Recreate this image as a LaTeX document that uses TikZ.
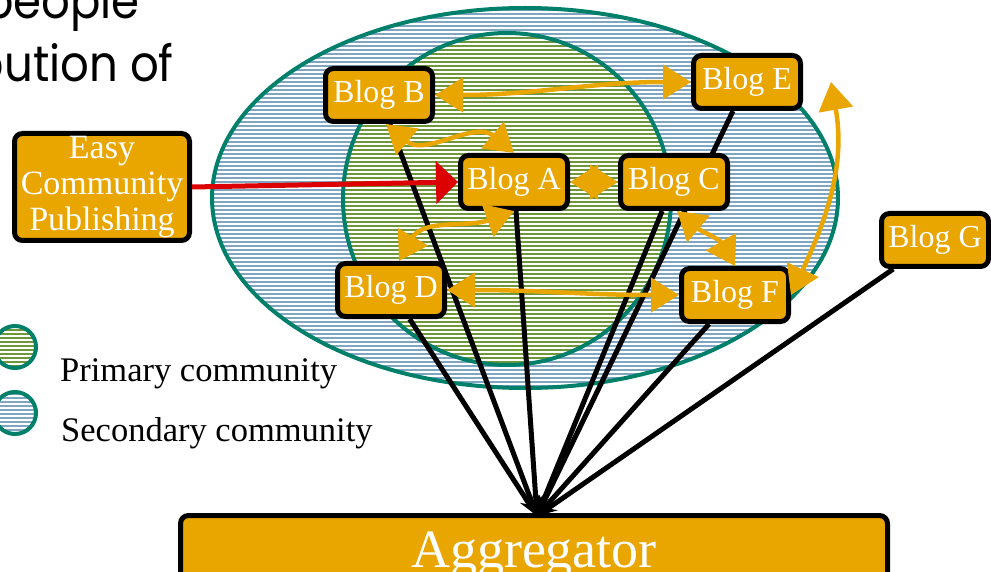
\documentclass[tikz,border=0pt]{standalone}
\usepackage{fontspec}
\setmainfont{Liberation Serif}
\newfontfamily\headfont[FakeStretch=0.9]{Poppins}
\usetikzlibrary{arrows.meta}

\definecolor{blogorange}{RGB}{233,165,0}
\definecolor{secblue}{RGB}{128,165,192}
\definecolor{primgreen}{RGB}{112,150,58}
\definecolor{ringteal}{RGB}{0,128,106}
\definecolor{pushred}{RGB}{220,0,0}

\pgfdeclarelayer{back}
\pgfdeclarelayer{links}
\pgfsetlayers{back,links,main}

% hatched community: centre, x radius, y radius, fill
\newcommand{\community}[4]{%
  \begin{scope}
    \clip #1 ellipse [x radius=#2, y radius=#3];
    \fill[#4] #1 ellipse [x radius=#2, y radius=#3];
    \foreach \k in {0,...,150}
      \draw[white, line width=1.1pt] (-50,-4*\k) -- (1050,-4*\k);
  \end{scope}
  \draw[ringteal, line width=4pt] #1 ellipse [x radius=#2, y radius=#3];}

\begin{document}
\begin{tikzpicture}[x=1pt, y=1pt,
    blog/.style={draw, line width=5pt, fill=blogorange, rounded corners=8pt,
      minimum width=107pt, minimum height=53pt, inner sep=0pt,
      text=white, font=\fontsize{32}{34}\selectfont},
    share/.style={blogorange, line width=4.5pt,
      {Triangle[length=28pt,width=34pt]}-{Triangle[length=28pt,width=34pt]}},
    feed/.style={black, line width=5pt, -{Stealth[length=20pt,width=14pt]}},
    push/.style={pushred, line width=5pt, -{Triangle[length=22pt,width=42pt]}},
    legend/.style={anchor=base west, inner sep=0pt, font=\fontsize{34.5}{34.5}\selectfont},
    heading/.style={anchor=base east, inner sep=0pt, font=\headfont\fontsize{50}{50}\selectfont}
  ]
  \useasboundingbox (0,0) rectangle (991,-572);

  % heading, cut by the page
  \node[heading] (head1) at (140,-19) {people};
  \node[heading] (head2) at (174,-82) {bution of};

  \begin{pgfonlayer}{back}
    \community{(525,-198)}{313}{190}{secblue}
    \community{(507,-199)}{164}{166}{primgreen}
  \end{pgfonlayer}

  % legend
  \community{(15,-347)}{21}{21}{primgreen}
  \community{(15,-413)}{21}{21}{secblue}
  \node[legend] (primary) at (60,-381) {Primary community};
  \node[legend] (secondary) at (61,-441) {Secondary community};

  \node[blog] (blogB) at (379,-95) {Blog B};
  \node[blog] (blogE) at (747,-82) {Blog E};
  \node[blog] (blogA) at (514,-182) {Blog A};
  \node[blog] (blogC) at (674,-182) {Blog C};
  \node[blog] (blogD) at (391,-290) {Blog D};
  \node[blog] (blogF) at (735,-295) {Blog F};
  \node[blog] (blogG) at (935,-240) {Blog G};
  \node[blog, minimum width=175pt, minimum height=107pt, align=center,
    font=\fontsize{34}{36}\selectfont] (ecp) at (102,-187) {Easy\\Community\\Publishing};

  \begin{pgfonlayer}{links}
    \node[blog, anchor=north, minimum width=707pt, minimum height=80pt,
      font=\fontsize{54}{54}\selectfont] (agg) at (534,-513) {Aggregator};
    \coordinate (hub) at (537,-516);
    % every blog feeds the aggregator
    \foreach \b in {blogB,blogD,blogA,blogC,blogE,blogF,blogG}
      \draw[feed] (\b) -- (hub);
  \end{pgfonlayer}

  % links between blogs
  \draw[share] (blogB.east) to[out=0,in=180] (blogE.west);
  \draw[share] ([xshift=7pt]blogB.south) to[out=-40,in=140] (blogA.north);
  \draw[share] (blogA.east) -- (blogC.west);
  \draw[share] ([xshift=8pt]blogD.north) to[out=60,in=200] (blogA.south);
  \draw[share] ([xshift=3pt]blogC.south) to[out=-40,in=120] (blogF.north);
  \draw[share] (blogD.east) to[out=0,in=180] (blogF.west);
  \draw[share] ([xshift=28pt]blogE.east) to[out=-80,in=65] (blogF.east);

  \draw[push] (ecp.east) -- (blogA.west);
\end{tikzpicture}
\end{document}
